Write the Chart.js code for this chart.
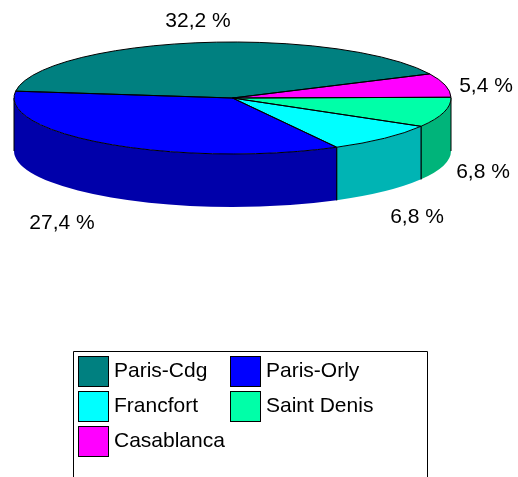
<!DOCTYPE html>
<html>
<head>
<meta charset="utf-8">
<title>Pie</title>
<script src="https://cdn.jsdelivr.net/npm/chart.js@4"></script>
<style>
  html, body { margin: 0; padding: 0; background: #fff; overflow: hidden; }
  canvas { display: block; }
</style>
</head>
<body>
<canvas id="pie" width="518" height="477"></canvas>
<script>
// Data, in legend order
const categories = ['Paris-Cdg', 'Paris-Orly', 'Francfort', 'Saint Denis', 'Casablanca'];
const shares = [32.2, 27.4, 6.8, 6.8, 5.4];
const shareLabels = ['32,2 %', '27,4 %', '6,8 %', '6,8 %', '5,4 %'];
const topColors = ['#008080', '#0000ff', '#00ffff', '#00ffa8', '#ff00ff'];
const wallColors = ['#005a5a', '#0000aa', '#00b4b4', '#00b47a', '#b400b4'];

// Where the percentage texts sit, in legend order
const labelAt = [[198, 21], [62, 223], [417, 217], [483, 172], [486, 86]];

const TOP_Y = 98, RY = 56, DEPTH = 53;
const FONT = '21px "Liberation Sans", Arial, sans-serif';

// slices run the other way round than the legend
const order = categories.map((c, i) => i).reverse();

const pie3d = {
    id: 'pie3d',
    beforeDatasetsDraw(chart) {
        const ctx = chart.ctx;
        const arcs = chart.getDatasetMeta(0).data;

        // side walls, only the front half of the ellipse shows
        arcs.forEach((arc, n) => {
            const a = Math.max(arc.startAngle, 0);
            const b = Math.min(arc.endAngle, Math.PI);
            const rings = [[a, b]];
            // slices past a full turn come round again to the front
            if (arc.endAngle > 2 * Math.PI) rings.push([Math.max(arc.startAngle - 2 * Math.PI, 0), Math.min(arc.endAngle - 2 * Math.PI, Math.PI)]);
            rings.forEach(([s, e]) => {
                if (e <= s) return;
                ctx.beginPath();
                ctx.ellipse(arc.x, TOP_Y, arc.outerRadius, RY, 0, s, e);
                ctx.ellipse(arc.x, TOP_Y + DEPTH, arc.outerRadius, RY, 0, e, s, true);
                ctx.closePath();
                ctx.fillStyle = wallColors[order[n]];
                ctx.fill();
                // vertical edges
                ctx.strokeStyle = '#000';
                ctx.lineWidth = 1;
                ctx.beginPath();
                [s, e].forEach(t => {
                    const x = arc.x + arc.outerRadius * Math.cos(t);
                    const y = TOP_Y + RY * Math.sin(t);
                    ctx.moveTo(x, y);
                    ctx.lineTo(x, y + DEPTH);
                });
                ctx.stroke();
            });
        });

        // squash the library's round pie into the top ellipse
        const first = arcs[0];
        ctx.save();
        ctx.translate(first.x, TOP_Y);
        ctx.scale(1, RY / first.outerRadius);
        ctx.translate(-first.x, -first.y);
    },
    afterDatasetsDraw(chart) {
        const ctx = chart.ctx;
        ctx.restore();

        // outlines done after the squash so the line stays 1px
        const arcs = chart.getDatasetMeta(0).data;
        ctx.strokeStyle = '#000';
        ctx.lineWidth = 1;
        arcs.forEach(arc => {
            ctx.beginPath();
            ctx.moveTo(arc.x, TOP_Y);
            ctx.ellipse(arc.x, TOP_Y, arc.outerRadius, RY, 0, arc.startAngle, arc.endAngle);
            ctx.closePath();
            ctx.stroke();
        });

        // percentages
        ctx.font = FONT;
        ctx.fillStyle = '#000';
        ctx.textAlign = 'center';
        ctx.textBaseline = 'middle';
        shareLabels.forEach((t, i) => ctx.fillText(t, labelAt[i][0], labelAt[i][1]));

        // legend box, runs off the bottom of the page
        ctx.strokeStyle = '#000';
        ctx.beginPath();
        ctx.moveTo(73.5, 480);
        ctx.lineTo(73.5, 351.5);
        ctx.lineTo(427.5, 351.5);
        ctx.lineTo(427.5, 480);
        ctx.stroke();

        ctx.textAlign = 'left';
        categories.forEach((name, i) => {
            const x = i % 2 ? 230.5 : 78.5;
            const y = 356.5 + Math.floor(i / 2) * 35;
            ctx.fillStyle = topColors[i];
            ctx.fillRect(x, y, 30, 30);
            ctx.strokeRect(x, y, 30, 30);
            ctx.fillStyle = '#000';
            ctx.fillText(name, x + 35.5, y + 15);
        });
    }
};

new Chart(document.getElementById('pie').getContext('2d'), {
    type: 'pie',
    data: {
        labels: order.map(i => categories[i]),
        datasets: [{
            data: order.map(i => shares[i]),
            backgroundColor: order.map(i => topColors[i]),
            borderWidth: 0
        }]
    },
    options: {
        responsive: false,
        animation: false,
        rotation: 64.5,
        layout: { padding: { left: 14, right: 67, top: 20, bottom: 20 } },
        plugins: { legend: { display: false }, tooltip: { enabled: false } }
    },
    plugins: [pie3d]
});
</script>
</body>
</html>
